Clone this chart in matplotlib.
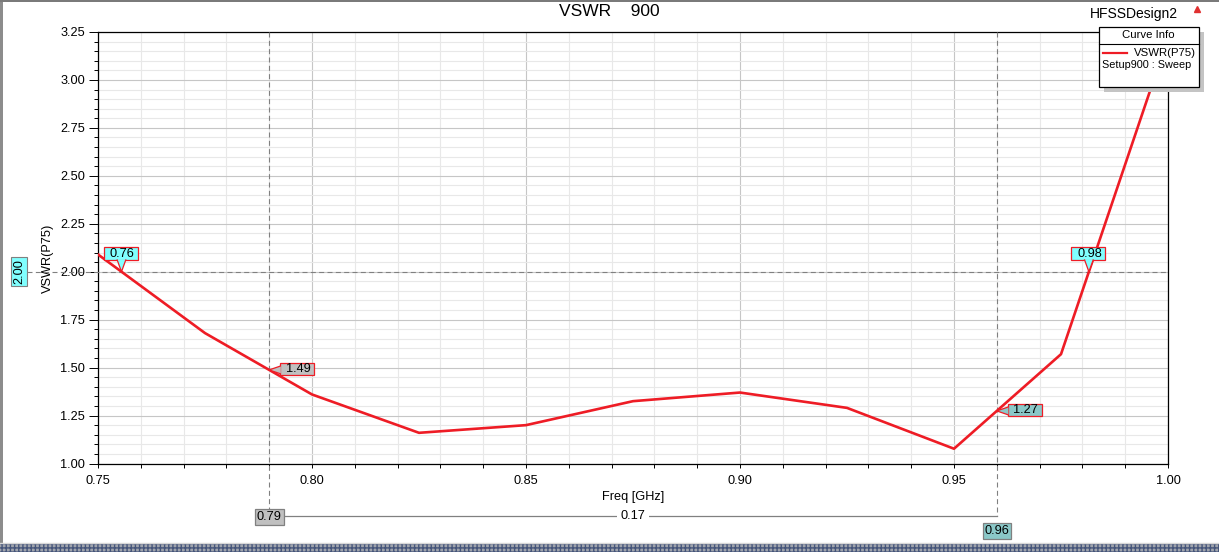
import matplotlib
matplotlib.use('Agg')
import matplotlib.pyplot as plt
import matplotlib.patches as patches
import matplotlib.ticker as ticker
from matplotlib.lines import Line2D
from matplotlib.transforms import Affine2D
import numpy as np

# data
freq = [0.75, 0.775, 0.80, 0.825, 0.85, 0.875, 0.90, 0.925, 0.95, 0.975, 1.00]
vswr = [2.09, 1.68, 1.36, 1.16, 1.20, 1.325, 1.37, 1.29, 1.077, 1.57, 3.22]

vswr_level = 2.00
marker_freqs = [0.79, 0.96]

title_text = 'VSWR    900'
design_name = 'HFSSDesign2'
trace_name = 'VSWR(P75)'
sweep_name = 'Setup900 : Sweep'

W, H = 1219, 552
DPI = 100
FS = 9.2  # tick / label size

plt.rcParams['font.family'] = ['Liberation Sans', 'DejaVu Sans']

fig = plt.figure(figsize=(W / DPI, H / DPI), dpi=DPI)
fig.patch.set_facecolor('white')

# pixel transform, origin top-left
T_px = Affine2D().scale(1, -1).translate(0, H)


def fx(px):
    return px / W


def fy(py):
    return 1 - py / H


ax_l, ax_r, ax_t, ax_b = 98, 1168, 32, 463.5
ax = fig.add_axes([fx(ax_l), fy(ax_b), fx(ax_r) - fx(ax_l), fy(ax_t) - fy(ax_b)])
ax.set_xlim(0.75, 1.00)
ax.set_ylim(1.00, 3.25)

ax.xaxis.set_major_locator(ticker.MultipleLocator(0.05))
ax.xaxis.set_minor_locator(ticker.MultipleLocator(0.01))
ax.yaxis.set_major_locator(ticker.MultipleLocator(0.25))
ax.yaxis.set_minor_locator(ticker.MultipleLocator(0.05))
ax.xaxis.set_major_formatter(ticker.FormatStrFormatter('%.2f'))
ax.yaxis.set_major_formatter(ticker.FormatStrFormatter('%.2f'))

ax.grid(True, which='major', color='#c6c6c6', linewidth=0.8)
ax.grid(True, which='minor', color='#e8e8e8', linewidth=0.8)
ax.set_axisbelow(True)

ax.tick_params(axis='both', which='both', direction='out', width=0.7,
               labelsize=FS, colors='black')
ax.tick_params(axis='x', which='both', length=3, pad=5)
ax.tick_params(axis='y', which='major', length=6.5, pad=3)
ax.tick_params(axis='y', which='minor', length=3)
for s in ax.spines.values():
    s.set_color('black')
    s.set_linewidth(0.9)

# curve
ax.plot(freq, vswr, color='#ee1c25', linewidth=1.9, zorder=5)

dash = (0, (4.5, 3))
# horizontal level line, runs out to the left marker box
ax.plot([-0.0664, 1], [vswr_level, vswr_level], transform=ax.get_yaxis_transform(),
        color='#808080', linewidth=0.8, linestyle=dash, clip_on=False, zorder=3)
# vertical marker lines
ax.plot([marker_freqs[0]] * 2, [1, -0.105], transform=ax.get_xaxis_transform(),
        color='#808080', linewidth=0.8, linestyle=dash, clip_on=False, zorder=3)
ax.plot([marker_freqs[1]] * 2, [1, -0.122], transform=ax.get_xaxis_transform(),
        color='#808080', linewidth=0.8, linestyle=dash, clip_on=False, zorder=3)

ax.set_xlabel('Freq [GHz]', fontsize=FS)
ax.set_ylabel(trace_name, fontsize=FS)
ax.yaxis.set_label_coords(-0.041, 0.475)
ax.xaxis.set_label_coords(0.5, -0.063)


def crossings(xs, ys, level):
    out = []
    for i in range(len(xs) - 1):
        y0, y1 = ys[i] - level, ys[i + 1] - level
        if y0 * y1 < 0:
            out.append(xs[i] + (level - ys[i]) * (xs[i + 1] - xs[i]) / (ys[i + 1] - ys[i]))
    return out


def callout(x0, y0, label, face, direction):
    # box with a pointer, anchored in pixels at the data point
    px, py = ax.transData.transform((x0, y0))
    T = Affine2D().translate(px, py)
    bw, bh = 34, 12.5
    if direction == 'down':
        cx, cy = -0.5, 18
        tri = [(-4.5, cy - bh / 2 + 0.6), (0, 0), (4.5, cy - bh / 2 + 0.6)]
    else:
        cx, cy = 28, 1
        tri = [(cx - bw / 2 + 0.6, 4), (0, 0), (cx - bw / 2 + 0.6, -4)]
    box = patches.Rectangle((cx - bw / 2, cy - bh / 2), bw, bh, transform=T,
                            facecolor=face, edgecolor='#ee1c25', linewidth=0.9,
                            zorder=8, clip_on=False)
    fig.add_artist(box)
    poly = patches.Polygon(tri, closed=False, transform=T, facecolor=face,
                           edgecolor='#ee1c25', linewidth=0.9, zorder=9, clip_on=False)
    fig.add_artist(poly)
    fig.text(cx + 1, cy - 0.5, label, transform=T, ha='center', va='center',
             fontsize=FS, color='black', zorder=10)


for xc in crossings(freq, vswr, vswr_level):
    callout(xc, vswr_level, f'{xc:.2f}', '#80ffff', 'down')

marker_faces = ['#c0c0c0', '#8ac8c8']
for f, face in zip(marker_freqs, marker_faces):
    val = np.interp(f, freq, vswr)
    callout(f, val, f'{val:.2f}', face, 'left')

# level box on the left, rotated
ax.text(-0.0738, vswr_level, f'{vswr_level:.2f}', transform=ax.get_yaxis_transform(),
        rotation=90, ha='center', va='center', fontsize=FS, clip_on=False,
        bbox=dict(boxstyle='square,pad=0.15', facecolor='#80ffff', edgecolor='#808080',
                  linewidth=0.8), zorder=10)

# delta marker strip under the axis
y_delta = -(516.3 - ax_b) / (ax_b - ax_t)
ax.plot(marker_freqs, [y_delta, y_delta], transform=ax.get_xaxis_transform(),
        color='#808080', linewidth=0.9, clip_on=False)
ax.text(np.mean(marker_freqs), y_delta, f'{marker_freqs[1] - marker_freqs[0]:.2f}',
        transform=ax.get_xaxis_transform(), ha='center', va='center', fontsize=FS,
        clip_on=False, bbox=dict(boxstyle='square,pad=0.25', facecolor='white',
                                 edgecolor='none'))
ax.text(marker_freqs[0], -(517 - ax_b) / (ax_b - ax_t), f'{marker_freqs[0]:.2f}',
        transform=ax.get_xaxis_transform(), ha='center', va='center', fontsize=FS,
        clip_on=False, bbox=dict(boxstyle='square,pad=0.15', facecolor='#c0c0c0',
                                 edgecolor='#808080', linewidth=0.9))
ax.text(marker_freqs[1], -(531 - ax_b) / (ax_b - ax_t), f'{marker_freqs[1]:.2f}',
        transform=ax.get_xaxis_transform(), ha='center', va='center', fontsize=FS,
        clip_on=False, bbox=dict(boxstyle='square,pad=0.15', facecolor='#8ac8c8',
                                 edgecolor='#808080', linewidth=0.9))

# title and design name
fig.text(609, 12, title_text, transform=T_px, ha='center', va='center', fontsize=12.5)
fig.text(1134, 14, design_name, transform=T_px, ha='center', va='center', fontsize=10)
fig.add_artist(Line2D([1197], [9], transform=T_px, marker='^', markersize=5,
                      color='#e03030', linestyle='none'))

# legend box ("Curve Info")
fig.add_artist(patches.Rectangle((1104, 32), 100, 60, transform=T_px,
                                 facecolor='#c4c4c4', edgecolor='none', zorder=11))
fig.add_artist(patches.Rectangle((1098.5, 26.5), 100, 60, transform=T_px,
                                 facecolor='white', edgecolor='black', linewidth=0.9, zorder=12))
fig.add_artist(Line2D([1098.5, 1198.5], [43.5, 43.5], transform=T_px, color='black',
                      linewidth=0.8, zorder=13))
fig.text(1148.5, 35, 'Curve Info', transform=T_px, ha='center', va='center',
         fontsize=8.2, zorder=13)
fig.add_artist(Line2D([1103, 1127], [53, 53], transform=T_px, color='#ee1c25',
                      linewidth=1.6, zorder=13))
fig.text(1196, 53, trace_name, transform=T_px, ha='right', va='center',
         fontsize=8.2, zorder=13)
fig.text(1102, 65, sweep_name, transform=T_px, ha='left', va='center',
         fontsize=7.8, zorder=13)

# window chrome: left and top border, bottom strip
fig.add_artist(patches.Rectangle((0, 0), 3, 544, transform=T_px,
                                 facecolor='#8c8c8c', edgecolor='none'))
fig.add_artist(patches.Rectangle((0, 0), W, 1.5, transform=T_px,
                                 facecolor='#7a7a7a', edgecolor='none'))
fig.add_artist(Line2D([0, W], [543, 543], transform=T_px, color='#d8d8d8', linewidth=1))
plt.rcParams['hatch.linewidth'] = 1.0
fig.add_artist(patches.Rectangle((0, 544), W, 8, transform=T_px, facecolor='#a0a4ac',
                                 edgecolor='#45557a', hatch='++++', linewidth=0))

fig.savefig('out.png', dpi=DPI)
